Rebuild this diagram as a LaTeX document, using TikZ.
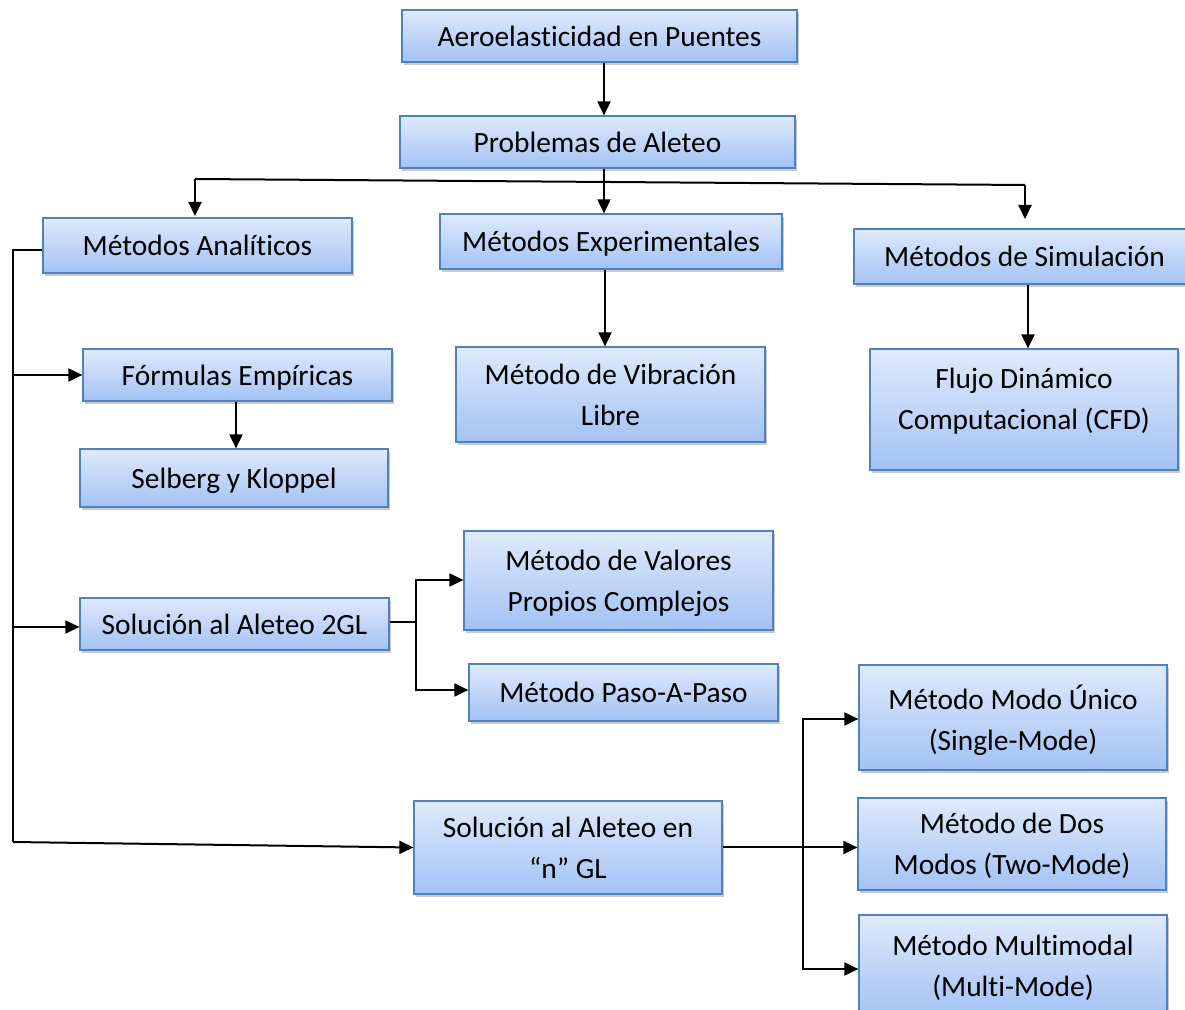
\documentclass[tikz,border=0pt]{standalone}
\usepackage{fontspec}
\setmainfont{Carlito}[Ligatures=NoCommon]
\usetikzlibrary{shadows,arrows.meta}
\definecolor{bordc}{HTML}{4F81BD}
\definecolor{topc}{HTML}{DFEAFC}
\definecolor{botc}{HTML}{A3C2F4}
\begin{document}
\begin{tikzpicture}[x=0.5pt,y=-0.5pt,
  box/.style={draw=bordc, line width=0.6pt, top color=topc, bottom color=botc,
    drop shadow={shadow xshift=1.2pt, shadow yshift=-1.5pt, opacity=0.35, fill=black!60},
    align=center, inner sep=0pt, text depth=0pt, font=\fontsize{14.7}{20.5}\selectfont},
  conn/.style={line width=1pt, draw=black},
  arr/.style={conn, -{Triangle[length=7pt,width=6.5pt]}}]
\useasboundingbox (0,0) rectangle (1185,1010);
% boxes
\node[box, minimum width=197.5pt, minimum height=26pt] (aero) at (599.5,36) {Aeroelasticidad en Puentes};
\node[box, minimum width=197.5pt, minimum height=26pt] (prob) at (597.5,142) {Problemas de Aleteo};
\node[box, minimum width=154.5pt, minimum height=27.5pt] (anal) at (197.5,245.5) {Métodos Analíticos};
\node[box, minimum width=171pt, minimum height=27.5pt] (expe) at (611,241.5) {Métodos Experimentales};
\node[box, minimum width=170.5pt, minimum height=27.5pt] (simu) at (1024.5,256.5) {Métodos de Simulación};
\node[box, minimum width=154.5pt, minimum height=26pt] (form) at (237.5,375) {Fórmulas Empíricas};
\node[box, minimum width=154pt, minimum height=29pt] (selb) at (234,478) {Selberg y Kloppel};
\node[box, minimum width=154.5pt, minimum height=47.5pt] (vibr) at (610.5,394.5) {Método de Vibración\\Libre};
\node[box, minimum width=154pt, minimum height=60.5pt, text depth=11pt] (cfd) at (1024,409.5) {Flujo Dinámico\\Computacional (CFD)};
\node[box, minimum width=154.5pt, minimum height=49.5pt] (valo) at (618.5,580.5) {Método de Valores\\Propios Complejos};
\node[box, minimum width=154.5pt, minimum height=26pt] (gl2) at (234.5,624) {Solución al Aleteo 2GL};
\node[box, minimum width=154.5pt, minimum height=28.5pt] (paso) at (623.5,692.5) {Método Paso-A-Paso};
\node[box, minimum width=154pt, minimum height=52.5pt] (unic) at (1013,717.5) {Método Modo Único\\(Single-Mode)};
\node[box, minimum width=154pt, minimum height=46.5pt] (ngl) at (568,847.5) {Solución al Aleteo en\\“n” GL};
\node[box, minimum width=154pt, minimum height=46pt] (dos) at (1012,844) {Método de Dos\\Modos (Two-Mode)};
\node[box, minimum width=154pt, minimum height=50.5pt] (mult) at (1013,965.5) {Método Multimodal\\(Multi-Mode)};
% connectors
\coordinate (hl) at (195,179);
\coordinate (hr) at (1025,185);
\draw[arr] (aero.south -| 604,0) -- (prob.north -| 604,0);
\draw[arr] (prob.south -| 604,0) -- (expe.north -| 604,0);
\draw[conn] (hl) -- (hr);
\draw[arr] (hl) -- (195,216);
\draw[arr] (hr) -- (1025,219);
\draw[arr] (expe.south -| 605,0) -- (vibr.north -| 605,0);
\draw[arr] (simu.south -| 1028,0) -- (cfd.north -| 1028,0);
% analiticos trunk
\coordinate (tk) at (13,250);
\coordinate (tb) at (13,842);
\draw[conn] (anal.west |- 0,250) -- (tk) -- (tb);
\draw[arr] (13,375) -- (form.west);
\draw[arr] (13,627) -- (gl2.west |- 0,627);
\draw[arr] (tb) -- (ngl.west);
\draw[arr] (form.south -| 236,0) -- (selb.north -| 236,0);
% 2GL branches
\coordinate (b2) at (416,622);
\draw[conn] (gl2.east |- b2) -- (b2);
\draw[arr] (416,690) -- (416,580) -- (valo.west |- 0,580);
\draw[arr] (416,622) -- (416,690) -- (paso.west |- 0,690);
% nGL branches
\draw[arr] (ngl.east) -- (dos.west |- ngl.east);
\draw[arr] (803,969) -- (803,719) -- (unic.west |- 0,719);
\draw[arr] (803,719) -- (803,969) -- (mult.west |- 0,969);
\end{tikzpicture}
\end{document}
